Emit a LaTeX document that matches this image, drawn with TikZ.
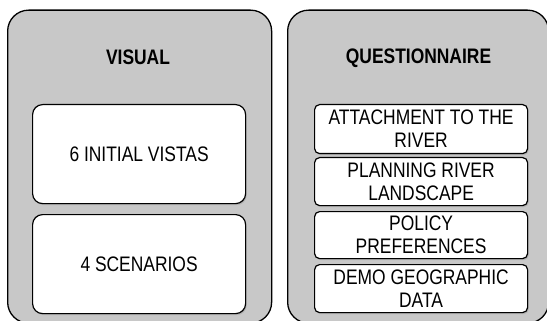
\documentclass[tikz,border=0pt]{standalone}
\usepackage{fontspec}
\setmainfont{Liberation Sans}[FakeStretch=0.83]
\usetikzlibrary{shadows}
\definecolor{panelgray}{RGB}{200,200,200}
\begin{document}
\begin{tikzpicture}[x=1pt,y=-1pt,
  panel/.style={draw=black, line width=1.3pt, fill=panelgray, rounded corners=21pt,
    anchor=north west, inner sep=0pt},
  bigbox/.style={draw=black, line width=1.2pt, fill=white, rounded corners=10pt,
    anchor=north west, minimum width=213pt, minimum height=99pt, inner sep=0pt,
    drop shadow={shadow xshift=1.2pt, shadow yshift=-1.5pt, opacity=0.3},
    font=\fontsize{21}{23}\selectfont},
  smallbox/.style={draw=black, line width=1.2pt, fill=white, rounded corners=5pt,
    anchor=north west, minimum width=213pt, inner sep=0pt, align=center,
    drop shadow={shadow xshift=1.2pt, shadow yshift=-1.5pt, opacity=0.3},
    font=\fontsize{21}{23}\selectfont},
  title/.style={font=\fontsize{21}{23}\selectfont\bfseries, inner sep=0pt}]
\useasboundingbox (0,0) rectangle (547,321);
\begin{scope}
\clip (0,0) rectangle (547,321);
\node[panel, minimum width=264pt, minimum height=313pt] (pv) at (7,9.5) {};
\node[panel, minimum width=261pt, minimum height=313pt] (pq) at (287,9.5) {};
\end{scope}
\node[title] (tv) at (138,57.5) {VISUAL};
\node[title] (tq) at (418.5,58.5) {QUESTIONNAIRE};
\node[bigbox] (v1) at (32,104) {6 INITIAL VISTAS};
\node[bigbox] (v2) at (32,214) {4 SCENARIOS};
\node[smallbox, minimum height=49pt] (q1) at (314,104) {ATTACHMENT TO THE\\RIVER};
\node[smallbox, minimum height=48pt] (q2) at (314,157) {PLANNING RIVER\\LANDSCAPE};
\node[smallbox, minimum height=47pt] (q3) at (314,211) {POLICY\\PREFERENCES};
\node[smallbox, minimum height=48pt] (q4) at (314,264) {DEMO GEOGRAPHIC\\DATA};
\end{tikzpicture}
\end{document}
